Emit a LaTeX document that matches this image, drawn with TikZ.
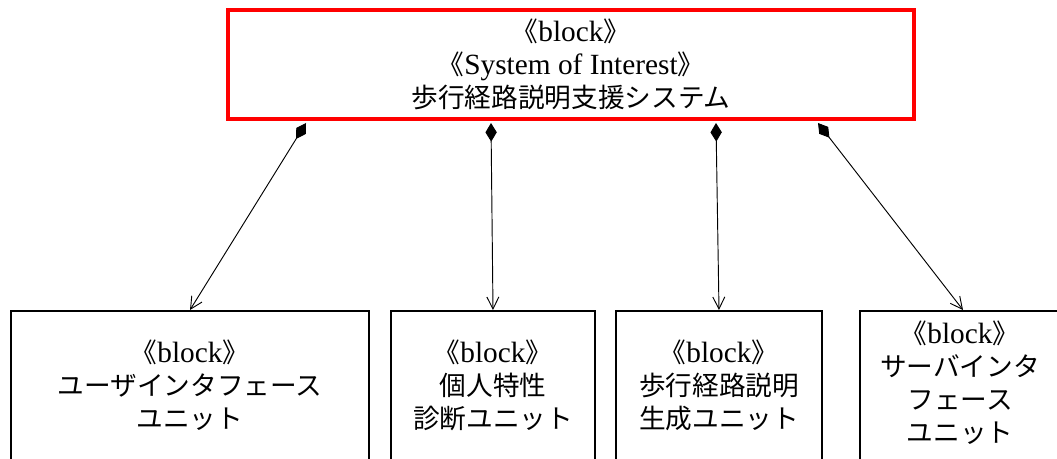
\documentclass[tikz,border=0pt]{standalone}
\usepackage{fontspec}
\setmainfont{Liberation Serif}[Scale=1.1]
\newfontfamily\cjk{Noto Sans CJK JP}
\usetikzlibrary{arrows.meta}
\newcommand\stereo[1]{{\cjk 《}#1{\cjk 》}}
\begin{document}
\begin{tikzpicture}[x=0.75pt,y=-0.75pt,
  txt/.style={align=center,font=\fontsize{20}{24.75}\selectfont,inner sep=0pt},
  topbox/.style={draw=red,line width=3pt,minimum width=514.5pt,minimum height=81.75pt,inner sep=0pt},
  blk/.style={draw=black,line width=1.5pt,minimum height=120pt,inner sep=0pt},
  comp/.style={line width=0.7pt,{Diamond[length=14pt,width=8.5pt]}-{Straight Barb[length=9pt,width=9pt]}}]
\clip (0,0) rectangle (1057,459);
\node[topbox,txt] (top) at (571,64.5) {\stereo{block}\\\stereo{System of Interest}\\{\cjk 歩行経路説明支援システム}};
\node[blk,minimum width=268.5pt,anchor=north] (b1) at (190,310) {};
\node[blk,minimum width=153pt,anchor=north] (b2) at (493,310) {};
\node[blk,minimum width=154.5pt,anchor=north] (b3) at (719,310) {};
\node[blk,minimum width=150pt,anchor=north] (b4) at (960,310) {};
\node[txt] (t1) at (190,385) {\stereo{block}\\{\cjk ユーザインタフェース}\\{\cjk ユニット}};
\node[txt] (t2) at (493,385) {\stereo{block}\\{\cjk 個人特性}\\{\cjk 診断ユニット}};
\node[txt] (t3) at (719,385) {\stereo{block}\\{\cjk 歩行経路説明}\\{\cjk 生成ユニット}};
\node[txt] (t4) at (960,383) {\stereo{block}\\{\cjk サーバインタ}\\{\cjk フェース}\\{\cjk ユニット}};
\draw[comp] ([xshift=60pt,yshift=-1.5pt]top.south west) -- (b1.north);
\draw[comp] ([xshift=198.75pt,yshift=-1.5pt]top.south west) -- (b2.north);
\draw[comp] ([xshift=367.5pt,yshift=-1.5pt]top.south west) -- (b3.north);
\draw[comp] ([xshift=444pt,yshift=-1.5pt]top.south west) -- ([xshift=2.25pt]b4.north);
\end{tikzpicture}
\end{document}
